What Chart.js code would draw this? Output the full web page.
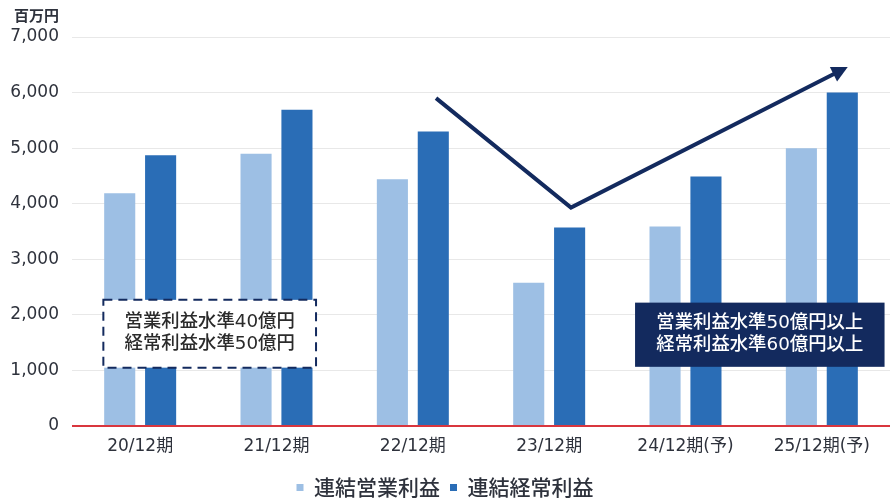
<!DOCTYPE html>
<html>
<head>
<meta charset="utf-8">
<script src="https://cdn.jsdelivr.net/npm/chart.js@4/dist/chart.umd.min.js"></script>
<style>
  html, body { margin: 0; padding: 0; background: #ffffff; }
  #wrap { width: 893px; height: 498px; position: relative; }
</style>
</head>
<body>
<div id="wrap"><canvas id="c" width="893" height="498"></canvas></div>
<script>
// ---- data ----
const categories = ['20/12期', '21/12期', '22/12期', '23/12期', '24/12期(予)', '25/12期(予)'];
const operatingProfit = [4190, 4900, 4440, 2580, 3590, 5000];   // 連結営業利益
const ordinaryProfit  = [4870, 5690, 5300, 3570, 4490, 6000];   // 連結経常利益
const seriesNames = ['連結営業利益', '連結経常利益'];
const yTicks = [0, 1000, 2000, 3000, 4000, 5000, 6000, 7000];
const unitLabel = '百万円';
const noteCurrent = ['営業利益水準40億円', '経常利益水準50億円'];
const noteTarget = ['営業利益水準50億円以上', '経常利益水準60億円以上'];
// trend arrow in data space: [category index, value]
const trendArrow = [[2.17, 5900], [3.16, 3930], [5.19, 6460]];

const FONT = '"Noto Sans CJK JP", "Noto Sans", sans-serif';
const NUMFONT = '"DejaVu Sans", "Noto Sans CJK JP", sans-serif';
const TEXT = '#2e323c';
const LIGHT = '#9dbfe4';
const DARK = '#2a6db6';
const NAVY = '#132a5e';

function stretchedText(ctx, text, cx, cy, sx) {
  ctx.save();
  ctx.translate(cx, cy);
  ctx.scale(sx, 1);
  ctx.fillText(text, 0, 0);
  ctx.restore();
}

const annotations = {
  id: 'annotations',
  afterDatasetsDraw(chart) {
    const { ctx, scales: { x, y } } = chart;
    ctx.save();
    // unit label
    ctx.fillStyle = TEXT;
    ctx.font = 'bold 15px ' + FONT;
    ctx.textAlign = 'right';
    ctx.textBaseline = 'middle';
    ctx.fillText(unitLabel, 59, 15);

    // dashed box
    let x0 = x.getPixelForValue(-0.27), x1 = x.getPixelForValue(1.29);
    let y0 = y.getPixelForValue(2270), y1 = y.getPixelForValue(1050);
    ctx.fillStyle = '#ffffff';
    ctx.fillRect(x0, y0, x1 - x0, y1 - y0);
    ctx.setLineDash([9, 6]);
    ctx.strokeStyle = NAVY;
    ctx.lineWidth = 2;
    ctx.strokeRect(x0, y0, x1 - x0, y1 - y0);
    ctx.setLineDash([]);
    ctx.fillStyle = '#2b2b2b';
    ctx.font = '500 18px ' + NUMFONT;
    ctx.textAlign = 'center';
    ctx.textBaseline = 'middle';
    let cx = (x0 + x1) / 2, cy = (y0 + y1) / 2;
    stretchedText(ctx, noteCurrent[0], cx, cy - 11, 1.02);
    stretchedText(ctx, noteCurrent[1], cx, cy + 11, 1.02);

    // navy box
    x0 = x.getPixelForValue(3.63); x1 = x.getPixelForValue(5.46);
    y0 = y.getPixelForValue(2220); y1 = y.getPixelForValue(1065);
    ctx.fillStyle = NAVY;
    ctx.fillRect(x0, y0, x1 - x0, y1 - y0);
    ctx.fillStyle = '#ffffff';
    cx = (x0 + x1) / 2; cy = (y0 + y1) / 2;
    stretchedText(ctx, noteTarget[0], cx, cy - 11, 1.02);
    stretchedText(ctx, noteTarget[1], cx, cy + 11, 1.02);

    // trend arrow
    const pts = trendArrow.map(p => [x.getPixelForValue(p[0]), y.getPixelForValue(p[1])]);
    ctx.strokeStyle = NAVY;
    ctx.lineWidth = 4;
    ctx.lineJoin = 'miter';
    ctx.beginPath();
    ctx.moveTo(pts[0][0], pts[0][1]);
    ctx.lineTo(pts[1][0], pts[1][1]);
    const a = pts[1], b = pts[2];
    const ang = Math.atan2(b[1] - a[1], b[0] - a[0]);
    const headLen = 16, headW = 8;
    ctx.lineTo(b[0] - Math.cos(ang) * headLen * 0.8, b[1] - Math.sin(ang) * headLen * 0.8);
    ctx.stroke();
    ctx.fillStyle = NAVY;
    ctx.beginPath();
    ctx.moveTo(b[0], b[1]);
    ctx.lineTo(b[0] - Math.cos(ang) * headLen + Math.sin(ang) * headW,
               b[1] - Math.sin(ang) * headLen - Math.cos(ang) * headW);
    ctx.lineTo(b[0] - Math.cos(ang) * headLen - Math.sin(ang) * headW,
               b[1] - Math.sin(ang) * headLen + Math.cos(ang) * headW);
    ctx.closePath();
    ctx.fill();
    ctx.restore();
  }
};

new Chart(document.getElementById('c'), {
  type: 'bar',
  data: {
    labels: categories,
    datasets: [
      { label: seriesNames[0], data: operatingProfit, backgroundColor: LIGHT, borderWidth: 0,
        barPercentage: 0.76, categoryPercentage: 0.6 },
      { label: seriesNames[1], data: ordinaryProfit, backgroundColor: DARK, borderWidth: 0,
        barPercentage: 0.76, categoryPercentage: 0.6 }
    ]
  },
  options: {
    responsive: false,
    animation: false,
    devicePixelRatio: 1,
    layout: { padding: { top: 37, right: 3, left: 0, bottom: -10 } },
    scales: {
      x: {
        grid: { display: false, drawTicks: false },
        border: { display: false },
        afterFit(scale) { scale.height = 41; },
        ticks: { color: TEXT, font: { family: NUMFONT, size: 17 }, padding: 10, maxRotation: 0 }
      },
      y: {
        min: 0, max: 7000,
        afterBuildTicks(scale) { scale.ticks = yTicks.map(v => ({ value: v })); },
        afterFit(scale) { scale.width = 72; },
        grid: {
          color: ctx => ctx.tick && ctx.tick.value === 0 ? '#d9363e' : '#e8e8e8',
          lineWidth: ctx => ctx.tick && ctx.tick.value === 0 ? 2 : 1,
          drawTicks: false
        },
        border: { display: false },
        ticks: {
          color: TEXT, padding: 13,
          font: { family: NUMFONT, size: 17 },
          callback: v => v.toLocaleString('en-US')
        }
      }
    },
    plugins: {
      legend: {
        position: 'bottom',
        labels: {
          usePointStyle: true, pointStyle: 'rect', boxWidth: 7, boxHeight: 7,
          color: TEXT, padding: 10,
          font: { family: FONT, size: 21, weight: '500' }
        }
      },
      tooltip: { enabled: false }
    }
  },
  plugins: [annotations]
});
</script>
</body>
</html>
